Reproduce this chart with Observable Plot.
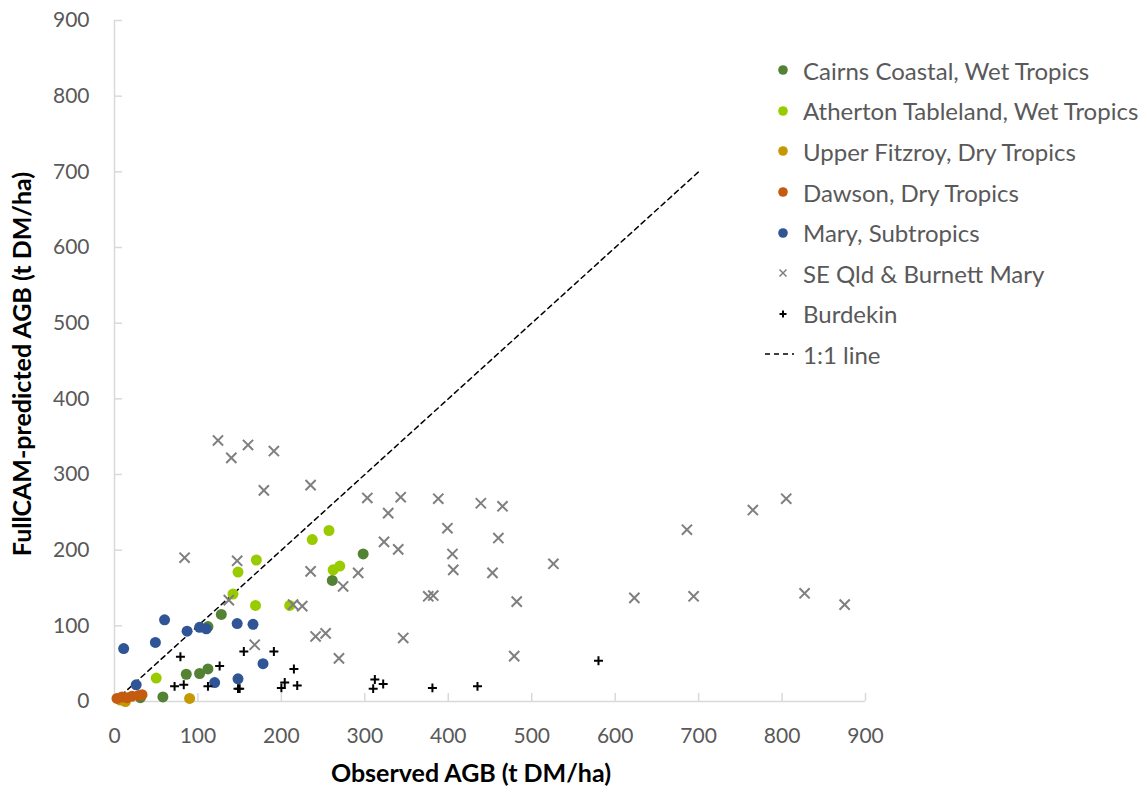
<!DOCTYPE html>
<html>
<head>
<meta charset="utf-8">
<script src="https://cdn.jsdelivr.net/npm/d3@7"></script>
<script src="https://cdn.jsdelivr.net/npm/@observablehq/plot@0.6"></script>
<style>
  body { margin: 0; background: #fff; }
  #wrap { position: relative; width: 1147px; height: 794px; font-family: Lato, "Open Sans", sans-serif; }
  #legend { position: absolute; left: 760px; top: 50px; }
  .row { height: 40.6px; display: flex; align-items: center; font-size: 24px; color: #595959; white-space: nowrap; }
  .row svg { width: 43px; height: 20px; flex: none; }
</style>
</head>
<body>
<div id="wrap"></div>
<script>
// ---- Data (Observed AGB, FullCAM-predicted AGB), t DM/ha ----
const seriesNames = [
  "Cairns Coastal, Wet Tropics",
  "Atherton Tableland, Wet Tropics",
  "Upper Fitzroy, Dry Tropics",
  "Dawson, Dry Tropics",
  "Mary, Subtropics",
  "SE Qld & Burnett Mary",
  "Burdekin"
];
const lineLabel = "1:1 line";
const seriesColors = ["#548235", "#99cc00", "#c59700", "#c55a11", "#2f5597", "#7f7f7f", "#000000"];
const seriesSymbols = ["circle", "circle", "circle", "circle", "circle", "times", "plus"];

const cairns = [[31,5],[58,6],[86,36],[102,37],[112,43],[112,99],[128,115],[261,160],[298,195]];
const atherton = [[50,31],[142,142],[148,171],[170,187],[169,127],[210,127],[237,214],[257,226],[262,174],[270,179]];
const upperFitzroy = [[7,2],[13,0],[90,4]];
const dawson = [[3,4],[9,6],[15,5],[21,7],[29,8],[33,9]];
const mary = [[11,70],[26,22],[49,78],[60,108],[87,93],[102,98],[110,96],[120,25],[147,103],[148,30],[166,102],[178,50]];
const seQld = [[124,345],[140,322],[160,339],[191,331],[179,279],[235,286],[303,269],[84,190],[147,186],[235,172],
  [292,170],[274,152],[137,134],[214,128],[225,126],[241,86],[253,90],[343,270],[388,268],[439,262],[465,258],
  [328,249],[399,229],[460,216],[323,211],[340,201],[405,195],[406,174],[453,170],[376,139],[382,140],[482,132],
  [168,75],[346,84],[269,57],[479,60],[526,182],[623,137],[694,139],[686,227],[765,253],[805,268],[827,143],[875,128]];
const burdekin = [[72,20],[79,59],[83,22],[112,20],[126,47],[148,17],[150,17],[155,66],[191,66],[200,18],[204,25],
  [215,43],[219,21],[310,17],[312,29],[322,23],[381,18],[435,20],[580,54]];

const seriesData = [cairns, atherton, upperFitzroy, dawson, mary, seQld, burdekin];
const oneToOne = [[0,0],[700,700]];
const xTicks = [0,100,200,300,400,500,600,700,800,900];
const yTicks = [0,100,200,300,400,500,600,700,800,900];
const xTitle = "Observed AGB (t DM/ha)";
const yTitle = "FullCAM-predicted AGB (t DM/ha)";

// ---- Layout ----
const W = 1147, H = 794;
const mTop = 20, mBottom = 93, mLeft = 114, mRight = 282;
const frameW = W - mLeft - mRight, frameH = H - mTop - mBottom;
const axisGrey = "#d9d9d9";
const textGrey = "#595959";

const seriesMarks = seriesData.map((pts, i) => {
  const sym = seriesSymbols[i];
  if (sym === "circle") {
    return Plot.dot(pts, {x: d => d[0], y: d => d[1], r: 5.5, fill: seriesColors[i], stroke: "none"});
  } else if (sym === "times") {
    return Plot.dot(pts, {x: d => d[0], y: d => d[1], r: 4.7, symbol: "times", stroke: seriesColors[i], strokeWidth: 2, fill: "none"});
  } else {
    return Plot.dot(pts, {x: d => d[0], y: d => d[1], r: 3.0, symbol: "plus", stroke: seriesColors[i], strokeWidth: 2, fill: "none"});
  }
});

const chart = Plot.plot({
  width: W, height: H,
  marginTop: mTop, marginBottom: mBottom, marginLeft: mLeft, marginRight: mRight,
  style: {fontFamily: "Lato, 'Open Sans', sans-serif", color: textGrey, background: "#fff"},
  x: {domain: [0, 900], axis: null},
  y: {domain: [0, 900], axis: null},
  marks: [
    Plot.ruleX([0], {stroke: axisGrey, strokeWidth: 1.5}),
    Plot.ruleY([0], {stroke: axisGrey, strokeWidth: 1.5}),
    Plot.tickX(xTicks, {x: d => d, stroke: axisGrey, strokeWidth: 1.5, insetTop: frameH - 8}),
    Plot.tickY(yTicks, {y: d => d, stroke: axisGrey, strokeWidth: 1.5, insetRight: frameW - 8}),
    Plot.axisX({ticks: xTicks, tickSize: 0, tickPadding: 27, fontSize: 21, tickFormat: d => String(d), fill: textGrey, label: null}),
    Plot.axisY({ticks: yTicks, tickSize: 0, tickPadding: 25, fontSize: 21, tickFormat: d => String(d), fill: textGrey, label: null}),
    Plot.line(oneToOne, {x: d => d[0], y: d => d[1], stroke: "#000", strokeWidth: 1.5, strokeDasharray: "5,4"}),
    ...seriesMarks,
    Plot.text([xTitle], {text: d => d, frameAnchor: "bottom", textAnchor: "middle", dx: -19, dy: 80, fontSize: 25, fontWeight: "bold", fill: "#000"}),
    Plot.text([yTitle], {text: d => d, frameAnchor: "left", textAnchor: "middle", rotate: -90, dx: -92, dy: 3, fontSize: 25, fontWeight: "bold", fill: "#000"})
  ]
});

const wrap = document.getElementById("wrap");
wrap.appendChild(chart);

// ---- Legend ----
const legend = document.createElement("div");
legend.id = "legend";
const ns = "http://www.w3.org/2000/svg";
function legendRow(label, draw) {
  const row = document.createElement("div");
  row.className = "row";
  const svg = document.createElementNS(ns, "svg");
  svg.setAttribute("viewBox", "0 0 43 20");
  draw(svg);
  row.appendChild(svg);
  const span = document.createElement("span");
  span.textContent = label;
  row.appendChild(span);
  legend.appendChild(row);
}
seriesNames.forEach((name, i) => {
  legendRow(name, svg => {
    const sym = seriesSymbols[i];
    if (sym === "circle") {
      const c = document.createElementNS(ns, "circle");
      c.setAttribute("cx", 23); c.setAttribute("cy", 10); c.setAttribute("r", 4.8);
      c.setAttribute("fill", seriesColors[i]);
      svg.appendChild(c);
    } else {
      const p = document.createElementNS(ns, "path");
      const s = 3.5;
      p.setAttribute("d", sym === "times"
        ? `M${23-s},${10-s}L${23+s},${10+s}M${23-s},${10+s}L${23+s},${10-s}`
        : `M${23-s},10L${23+s},10M23,${10-s}L23,${10+s}`);
      p.setAttribute("stroke", seriesColors[i]);
      p.setAttribute("stroke-width", sym === "times" ? 1.5 : 2);
      p.setAttribute("fill", "none");
      svg.appendChild(p);
    }
  });
});
legendRow(lineLabel, svg => {
  const l = document.createElementNS(ns, "line");
  l.setAttribute("x1", 5); l.setAttribute("x2", 34); l.setAttribute("y1", 10); l.setAttribute("y2", 10);
  l.setAttribute("stroke", "#000"); l.setAttribute("stroke-width", 1.5); l.setAttribute("stroke-dasharray", "5,4");
  svg.appendChild(l);
});
wrap.appendChild(legend);
</script>
</body>
</html>
